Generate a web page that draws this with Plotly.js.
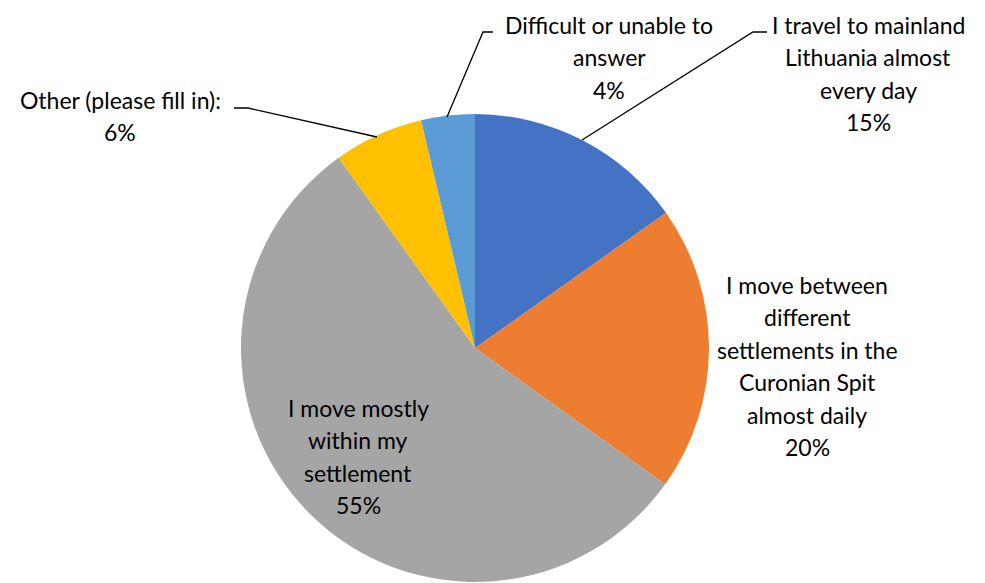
<!DOCTYPE html>
<html>
<head>
<meta charset="utf-8">
<script src="https://cdn.plot.ly/plotly-3.0.1.min.js"></script>
<style>html,body{margin:0;padding:0;background:#fff;}#chart{width:985px;height:583px;}</style>
</head>
<body>
<div id="chart"></div>
<script>
const categories = [
  'I travel to mainland Lithuania almost every day',
  'I move between different settlements in the Curonian Spit almost daily',
  'I move mostly within my settlement',
  'Other (please fill in):',
  'Difficult or unable to answer'
];
const values = [15.2, 19.7, 55.2, 6.2, 3.7];
const colors = ['#4472C4', '#ED7D31', '#A5A5A5', '#FFC000', '#5B9BD5'];
const labelLines = [
  ['I travel to mainland', 'Lithuania almost', 'every day'],
  ['I move between', 'different', 'settlements in the', 'Curonian Spit', 'almost daily'],
  ['I move mostly', 'within my', 'settlement'],
  ['Other (please fill in):'],
  ['Difficult or unable to', 'answer']
];

const W = 985, H = 583;
const px = x => x / W;
const py = y => 1 - y / H;

// label placement (center x, first line y) in pixels
const labelPos = [[868, 25], [807, 285], [358, 408], [120, 100], [609, 25]];
const lineGap = 32.4;
const total = values.reduce((a, b) => a + b, 0);

const annotations = [];
labelLines.forEach((lines, i) => {
  const all = lines.concat([Math.round(values[i] / total * 100) + '%']);
  all.forEach((t, j) => {
    annotations.push({
      text: t, showarrow: false, xref: 'paper', yref: 'paper',
      x: px(labelPos[i][0]), y: py(labelPos[i][1] + j * lineGap),
      xanchor: 'center', yanchor: 'middle',
      font: {family: 'Lato, "Open Sans", sans-serif', size: 23, color: '#000'}
    });
  });
});

// leader lines
const leaders = [
  [[582, 140], [753, 32], [767, 32]],
  [[377, 137], [248, 108], [234, 108]],
  [[447, 117], [483, 32], [493, 32]]
];
const shapes = leaders.map(pts => ({
  type: 'path', xref: 'paper', yref: 'paper',
  path: 'M ' + pts.map(p => px(p[0]) + ',' + py(p[1])).join(' L '),
  line: {color: '#000', width: 1.3}
}));

const data = [{
  type: 'pie',
  labels: categories,
  values: values,
  sort: false,
  direction: 'clockwise',
  rotation: 0,
  marker: {colors: colors, line: {width: 0}},
  textinfo: 'none',
  hoverinfo: 'label+percent',
  domain: {x: [px(241), px(709)], y: [py(582), py(114)]},
  showlegend: false
}];

const layout = {
  width: W, height: H,
  margin: {l: 0, r: 0, t: 0, b: 0},
  paper_bgcolor: '#fff',
  showlegend: false,
  annotations: annotations,
  shapes: shapes
};

Plotly.newPlot('chart', data, layout, {displayModeBar: false, staticPlot: true});
</script>
</body>
</html>
